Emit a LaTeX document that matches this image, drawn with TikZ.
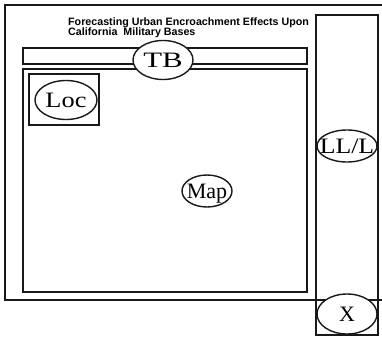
\documentclass[tikz,border=0pt]{standalone}
\usepackage{fontspec}
\setmainfont{Liberation Serif}
\newfontfamily\titlesans{Liberation Sans}
\usetikzlibrary{shapes.geometric}
\newcommand\ctrtext[2][1]{\makebox[0pt]{\raisebox{-0.33em}[0pt][0pt]{\scalebox{#1}[1]{#2}}}}
\tikzset{
  panel/.style={draw=black!90, line width=1.6pt},
  oval/.style={draw=black!90, line width=1.4pt, ellipse, inner sep=0pt, outer sep=0pt, fill=white,
    font=\fontsize{22}{22}\selectfont},
  ttl/.style={anchor=base west, inner sep=0pt, font=\titlesans\bfseries\fontsize{10.7}{10}\selectfont}
}
\begin{document}
\begin{tikzpicture}[x=1pt,y=-1pt]
\useasboundingbox (0,0) rectangle (382,337);
% outer frame (open on the right)
\draw[panel] (382,5) -- (5,5) -- (5,300) -- (382,300);
% title
\node[ttl] (t1) at (68,26) {Forecasting Urban Encroachment Effects Upon};
\node[ttl] (t2) at (68,35) {California\ \ Military Bases};
% boxes
\draw[panel] (23,48) rectangle (307,64);
\draw[panel] (23,69) rectangle (307,292);
\draw[panel] (29,74) rectangle (99,125);
\draw[panel] (316,15) rectangle (378,335);
\draw[panel] (316,300) -- (382,300);
% labels
\node[oval, minimum width=60pt, minimum height=39pt] (tb) at (163,60) {\ctrtext[1.4]{TB}};
\node[oval, minimum width=62pt, minimum height=39pt] (loc) at (66,100) {\ctrtext[1.2]{Loc}};
\node[oval, minimum width=50pt, minimum height=32pt] (map) at (207,191) {\ctrtext{Map}};
\node[oval, minimum width=60pt, minimum height=32pt] (ll) at (347,146) {\ctrtext[1.17]{LL/L}};
\node[oval, minimum width=60pt, minimum height=40pt] (x) at (347,314) {\ctrtext{X}};
\end{tikzpicture}
\end{document}
